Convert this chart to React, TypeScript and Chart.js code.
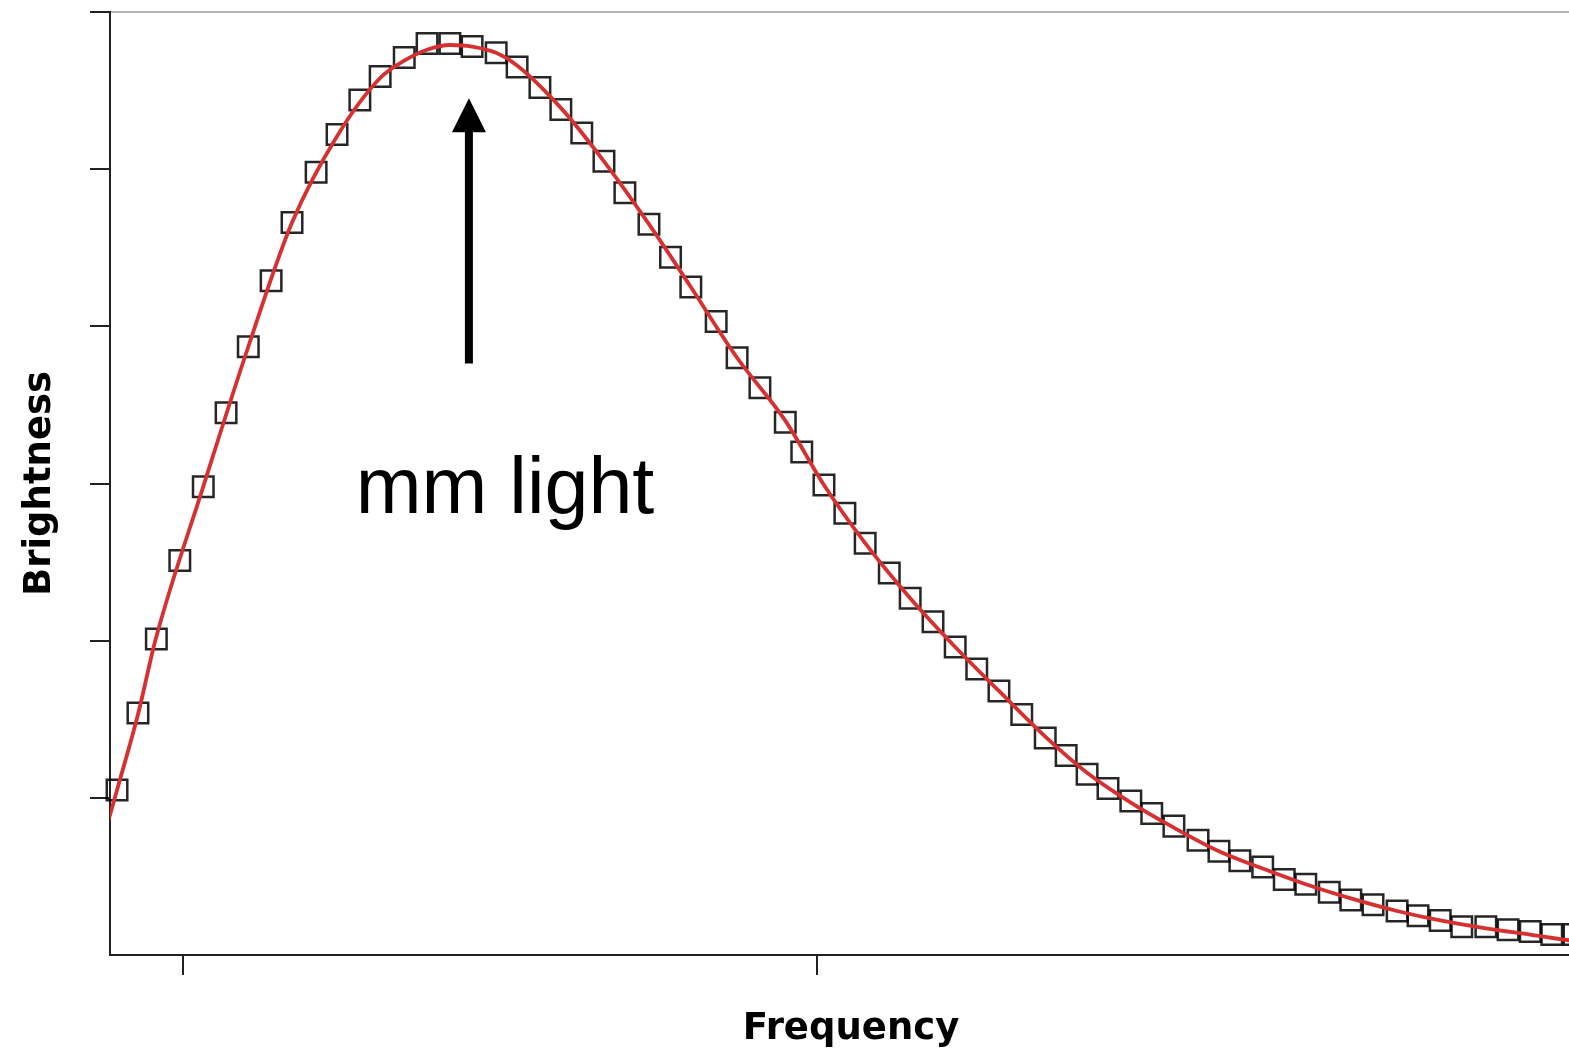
import React, { useEffect, useRef } from 'react';
import { Chart, registerables } from 'chart.js';

Chart.register(...registerables);

// Observed spectrum (square markers)
const FREQ = [
  3.96, 4.29, 4.58, 4.95, 5.32, 5.68, 6.03, 6.39, 6.72, 7.10,
  7.43, 7.79, 8.11, 8.49, 8.85, 9.21, 9.56, 9.94, 10.27, 10.63,
  10.96, 11.29, 11.64, 11.97, 12.35, 12.69, 13.01, 13.41, 13.74, 14.10,
  14.50, 14.76, 15.11, 15.44, 15.76, 16.14, 16.47, 16.83, 17.18, 17.52,
  17.87, 18.23, 18.60, 18.93, 19.26, 19.59, 19.95, 20.28, 20.63, 21.01,
  21.34, 21.67, 22.03, 22.37, 22.71, 23.08, 23.42, 23.77, 24.15, 24.48,
  24.83, 25.17, 25.55, 25.90, 26.25, 26.59, 26.94,
];
const BRIGHTNESS = [
  1.05, 1.54, 2.01, 2.51, 2.98, 3.45, 3.87, 4.29, 4.66, 4.98,
  5.22, 5.44, 5.59, 5.71, 5.80, 5.80, 5.78, 5.74, 5.65, 5.52,
  5.38, 5.23, 5.05, 4.85, 4.65, 4.44, 4.25, 4.03, 3.80, 3.61,
  3.39, 3.20, 2.99, 2.81, 2.62, 2.43, 2.27, 2.12, 1.96, 1.82,
  1.68, 1.53, 1.38, 1.27, 1.15, 1.06, 0.98, 0.90, 0.82, 0.73,
  0.66, 0.60, 0.56, 0.48, 0.45, 0.40, 0.35, 0.32, 0.28, 0.25,
  0.22, 0.18, 0.18, 0.16, 0.15, 0.13, 0.13,
];

// Model curve (red line)
const MODEL_FREQ = [
  3.80, 3.96, 4.29, 4.57, 5.32, 6.03, 6.72, 7.43, 8.11, 8.49,
  8.85, 9.21, 9.56, 9.94, 10.27, 10.96, 11.64, 12.35, 13.01, 13.74,
  14.50, 15.11, 15.76, 16.47, 17.18, 17.87, 18.60, 19.26, 19.95, 20.63,
  21.34, 22.03, 22.71, 23.42, 24.15, 24.83, 25.55, 26.25, 26.94, 27.30,
];
const MODEL_BRIGHTNESS = [
  0.82, 1.05, 1.53, 2.01, 2.98, 3.87, 4.66, 5.21, 5.58, 5.69,
  5.76, 5.79, 5.78, 5.74, 5.66, 5.39, 5.05, 4.65, 4.25, 3.80,
  3.40, 2.99, 2.62, 2.27, 1.96, 1.68, 1.39, 1.16, 0.97, 0.81,
  0.66, 0.55, 0.45, 0.36, 0.28, 0.22, 0.17, 0.13, 0.09, 0.08,
];

const X_TICKS = [5, 15];
const Y_TICKS = [1, 2, 3, 4, 5, 6];
const X_MIN = 3.849;
const X_MAX = 27.224;
const Y_MIN = 0;
const Y_MAX = 6;

const X_TITLE = 'Frequency';
const Y_TITLE = 'Brightness';
const NOTE_TEXT = 'mm light';
const NOTE_POS = { x: 10.08, y: 2.815 };
const ARROW = { x: 9.51, yFrom: 3.764, yTo: 5.452 };

const annotatePlugin = {
  id: 'annotate',
  afterDatasetsDraw(chart: any) {
    const { ctx, chartArea, scales } = chart;
    const xs = scales.x;
    const ys = scales.y;
    ctx.save();
    // top frame line
    ctx.strokeStyle = '#b4b4b4';
    ctx.lineWidth = 2;
    ctx.beginPath();
    ctx.moveTo(chartArea.left + 1, chartArea.top);
    ctx.lineTo(chartArea.right, chartArea.top);
    ctx.stroke();

    // arrow
    const ax = xs.getPixelForValue(ARROW.x);
    const yStart = ys.getPixelForValue(ARROW.yFrom);
    const tip = ys.getPixelForValue(ARROW.yTo);
    const headLen = 34;
    const headHalf = 17;
    ctx.strokeStyle = '#000';
    ctx.fillStyle = '#000';
    ctx.lineWidth = 8;
    ctx.lineCap = 'butt';
    ctx.beginPath();
    ctx.moveTo(ax, yStart);
    ctx.lineTo(ax, tip + headLen - 2);
    ctx.stroke();
    ctx.beginPath();
    ctx.moveTo(ax, tip);
    ctx.lineTo(ax - headHalf, tip + headLen);
    ctx.lineTo(ax + headHalf, tip + headLen);
    ctx.closePath();
    ctx.fill();

    // label
    ctx.font = '79px "Liberation Sans", Arial, sans-serif';
    ctx.textAlign = 'center';
    ctx.textBaseline = 'alphabetic';
    ctx.fillText(NOTE_TEXT, xs.getPixelForValue(NOTE_POS.x), ys.getPixelForValue(NOTE_POS.y));
    ctx.restore();
  },
};

export default function App() {
  const canvasRef = useRef<HTMLCanvasElement | null>(null);

  useEffect(() => {
    if (!canvasRef.current) return;
    const titleFont = { family: '"DejaVu Sans", sans-serif', size: 37, weight: 'bold' as const, lineHeight: 1 };
    const chart = new Chart(canvasRef.current, {
      type: 'line',
      data: {
        datasets: [
          {
            label: 'model',
            data: MODEL_FREQ.map((f, i) => ({ x: f, y: MODEL_BRIGHTNESS[i] })),
            borderColor: 'rgb(214, 48, 48)',
            borderWidth: 3.8,
            pointRadius: 0,
            cubicInterpolationMode: 'monotone',
            fill: false,
            order: 0,
            clip: 0,
          },
          {
            label: 'data',
            data: FREQ.map((f, i) => ({ x: f, y: BRIGHTNESS[i] })),
            showLine: false,
            pointStyle: 'rect',
            pointRadius: 14.5,
            pointBorderWidth: 2.5,
            pointBorderColor: 'rgba(0,0,0,0.85)',
            pointBackgroundColor: 'rgba(0,0,0,0)',
            order: 1,
            clip: false,
          },
        ],
      },
      options: {
        animation: false,
        responsive: false,
        events: [],
        layout: { autoPadding: false, padding: { top: 12, left: 0, right: 0, bottom: 0 } },
        plugins: { legend: { display: false }, tooltip: { enabled: false }, title: { display: false } },
        scales: {
          x: {
            type: 'linear',
            min: X_MIN,
            max: X_MAX,
            afterBuildTicks: (axis: any) => {
              axis.ticks = X_TICKS.map((v) => ({ value: v }));
            },
            ticks: { display: false },
            grid: {
              drawOnChartArea: false,
              drawTicks: true,
              tickLength: 20,
              color: '#222',
              lineWidth: 2,
            },
            border: { display: true, color: '#222', width: 2 },
            title: {
              display: true,
              text: X_TITLE,
              color: '#000',
              font: titleFont,
              padding: { top: 35.5, bottom: 5.5 },
            },
          },
          y: {
            type: 'linear',
            min: Y_MIN,
            max: Y_MAX,
            afterBuildTicks: (axis: any) => {
              axis.ticks = Y_TICKS.map((v) => ({ value: v }));
            },
            ticks: { display: false },
            grid: {
              drawOnChartArea: false,
              drawTicks: true,
              tickLength: 20,
              color: '#222',
              lineWidth: 2,
            },
            border: { display: true, color: '#222', width: 2 },
            title: {
              display: true,
              text: Y_TITLE,
              color: '#000',
              font: titleFont,
              padding: { top: 22, bottom: 31 },
            },
          },
        },
      },
      plugins: [annotatePlugin],
    } as any);
    return () => chart.destroy();
  }, []);

  return (
    <div style={{ position: 'fixed', left: 0, top: 0, width: 1569, height: 1053, overflow: 'hidden', background: '#fff' }}>
      <canvas ref={canvasRef} width={1592} height={1053} style={{ display: 'block', width: 1592, height: 1053 }} />
    </div>
  );
}
